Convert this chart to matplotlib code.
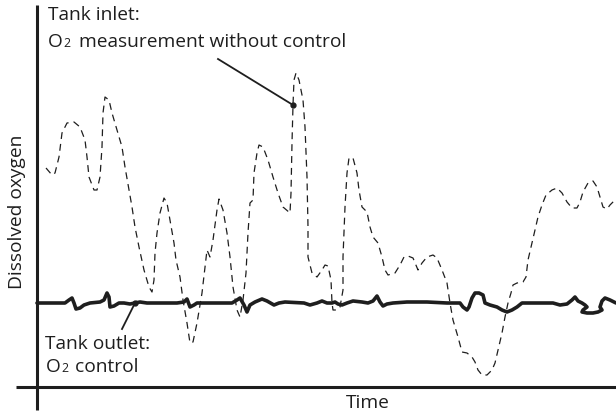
import matplotlib
matplotlib.use("Agg")
import matplotlib.pyplot as plt
from matplotlib.transforms import offset_copy

plt.rcParams['font.family'] = ['Open Sans', 'DejaVu Sans']

# Tank inlet: O2 measurement without control (dashed)
inlet_t = [9, 15, 18, 22, 25, 30, 37, 43, 48, 50,
           52, 57, 60, 63, 65, 66, 68, 72, 75, 80,
           85, 88, 92, 95, 98, 102, 107, 112, 115, 117,
           118, 120, 123, 127, 130, 133, 137, 139, 143, 146,
           150, 153, 156, 160, 165, 168, 170, 173, 176, 180,
           182, 186, 190, 193, 196, 200, 203, 206, 209, 211,
           213, 216, 217, 220, 222, 226, 231, 236, 241, 246,
           253, 254, 255, 256, 257, 259, 262, 266, 268, 270,
           271, 271, 275, 280, 285, 288, 291, 294, 295, 296,
           300, 303, 306, 306, 308, 310, 312, 316, 320, 322,
           325, 330, 333, 336, 341, 345, 348, 351, 358, 363,
           367, 371, 376, 381, 385, 390, 396, 400, 405, 410,
           413, 416, 421, 425, 430, 435, 438, 441, 445, 450,
           455, 458, 461, 465, 468, 471, 474, 476, 480, 486,
           489, 491, 495, 498, 501, 505, 509, 515, 520, 525,
           530, 535, 540, 543, 546, 551, 556, 560, 563, 566,
           570, 573, 578]
inlet_v = [219, 212, 214, 230, 254, 264, 265, 260, 247, 230,
           210, 197, 197, 210, 240, 274, 290, 287, 274, 257,
           240, 220, 197, 180, 160, 140, 117, 100, 95, 107,
           134, 154, 174, 189, 184, 167, 144, 127, 110, 87,
           64, 44, 45, 64, 94, 120, 137, 130, 147, 177,
           188, 177, 154, 130, 100, 77, 70, 87, 114, 154,
           184, 187, 214, 234, 242, 240, 227, 210, 194, 180,
           174, 194, 244, 282, 307, 314, 307, 287, 260, 210,
           160, 130, 114, 110, 117, 122, 121, 107, 84, 77,
           77, 80, 97, 130, 180, 214, 229, 229, 214, 197,
           180, 175, 160, 150, 144, 130, 117, 112, 114, 122,
           130, 131, 129, 117, 124, 130, 132, 129, 117, 104,
           84, 67, 50, 35, 34, 30, 25, 17, 12, 12,
           17, 24, 37, 54, 70, 84, 94, 102, 104, 105,
           110, 127, 144, 157, 170, 182, 192, 197, 199, 194,
           185, 179, 179, 185, 195, 204, 206, 200, 190, 180,
           178, 182, 187]

# Tank outlet: O2 control (solid)
outlet_t = [0, 28, 32, 35, 37, 39, 43, 47, 53, 63,
            67, 70, 72, 73, 77, 82, 87, 93, 98, 103,
            110, 127, 140, 147, 150, 153, 157, 160, 195, 200,
            203, 207, 210, 213, 218, 225, 230, 237, 242, 248,
            267, 273, 280, 285, 290, 295, 298, 301, 305, 310,
            316, 325, 331, 336, 340, 343, 346, 350, 356, 370,
            390, 410, 423, 426, 430, 432, 435, 438, 442, 446,
            448, 453, 460, 465, 470, 475, 480, 485, 496, 516,
            523, 530, 535, 538, 541, 545, 548, 550, 546, 545,
            550, 556, 561, 565, 563, 565, 568, 573, 579]
outlet_v = [84, 84, 87, 89, 84, 78, 79, 82, 84, 85,
            87, 94, 90, 80, 81, 84, 84, 83, 84, 85,
            84, 84, 84, 85, 88, 80, 82, 84, 84, 87,
            89, 82, 75, 82, 85, 88, 86, 82, 84, 85,
            84, 82, 84, 86, 84, 84, 85, 83, 82, 84,
            86, 85, 84, 86, 91, 85, 81, 83, 84, 85,
            85, 84, 84, 80, 77, 80, 89, 94, 94, 92,
            84, 82, 80, 77, 75, 77, 80, 84, 84, 84,
            82, 83, 87, 90, 86, 84, 82, 80, 77, 75,
            74, 74, 75, 77, 80, 86, 89, 87, 84]

fig = plt.figure(figsize=(6.16, 4.16), dpi=100)
ax = fig.add_axes([37 / 616, 29 / 416, 579 / 616, 382 / 416])
ax.set_xlim(0, 579)
ax.set_ylim(0, 382)
ax.axis('off')
renderer = fig.canvas.get_renderer()

ink = '#1e1e1e'
ax.plot(inlet_t, inlet_v, color=ink, lw=0.9, dashes=(5.5, 4), clip_on=False)
ax.plot(outlet_t, outlet_v, color=ink, lw=2.6, solid_joinstyle='round', solid_capstyle='round', clip_on=False)

# axes lines
ax.plot([0, 0], [-23, 382], color=ink, lw=2.2, clip_on=False, solid_capstyle='butt')
ax.plot([-21, 579], [0, 0], color=ink, lw=2.2, clip_on=False, solid_capstyle='butt')

fs = 13.8
ax.text(-15, 175, 'Dissolved oxygen', rotation=90, rotation_mode='anchor',
        ha='center', va='baseline', fontsize=fs, color=ink)
ax.text(330.5, -21, 'Time', ha='center', va='baseline', fontsize=fs, color=ink)


def o2_text(x, y, rest, gap):
    t1 = ax.text(x, y, 'O', ha='left', va='baseline', fontsize=fs, color=ink)
    w1 = t1.get_window_extent(renderer).width
    tr2 = offset_copy(ax.transData, fig=fig, x=w1 + 0.5, y=0, units='dots')
    t2 = ax.text(x, y, '2', ha='left', va='baseline', fontsize=fs * 0.64, color=ink, transform=tr2)
    w2 = t2.get_window_extent(renderer).width
    tr3 = offset_copy(ax.transData, fig=fig, x=w1 + w2 + 0.5 + gap, y=0, units='dots')
    ax.text(x, y, rest, ha='left', va='baseline', fontsize=fs, color=ink, transform=tr3)


# inlet annotation
ax.plot([256], [282], 'o', color=ink, ms=3.5, clip_on=False)
ax.plot([181, 256], [328, 282], color=ink, lw=1.3, clip_on=False)
ax.text(11, 367, 'Tank inlet:', ha='left', va='baseline', fontsize=fs, color=ink)
o2_text(11, 340, ' measurement without control', 4)

# outlet annotation
ax.plot([98], [84], 'o', color=ink, ms=3.5, clip_on=False)
ax.plot([85, 98], [58, 84], color=ink, lw=1.3, clip_on=False)
ax.text(8, 38, 'Tank outlet:', ha='left', va='baseline', fontsize=fs, color=ink)
o2_text(9, 15, ' control', 2)

fig.savefig('out.png', dpi=100)
